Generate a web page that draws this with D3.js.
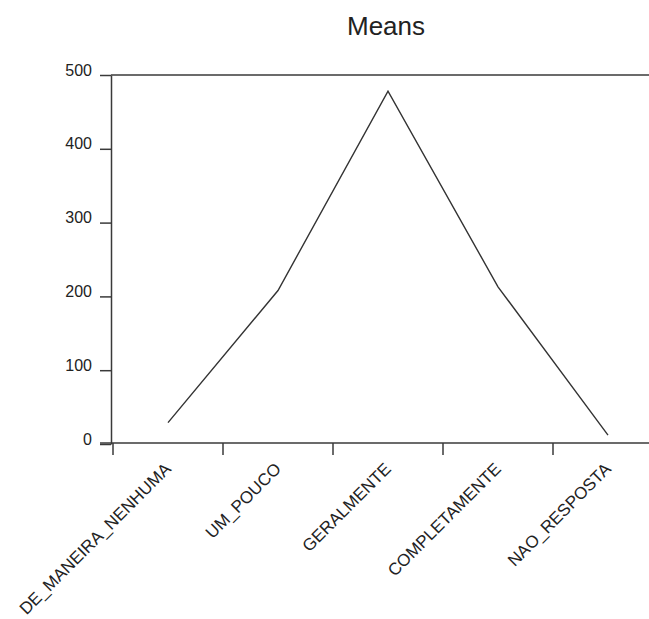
<!DOCTYPE html>
<html>
<head>
<meta charset="utf-8">
<script src="https://cdn.jsdelivr.net/npm/d3@7"></script>
<style>
  html, body { margin: 0; padding: 0; background: #fff; }
  svg { display: block; }
  text { font-family: "Liberation Sans", Arial, sans-serif; fill: #222; }
</style>
</head>
<body>
<script>
const categories = ["DE_MANEIRA_NENHUMA", "UM_POUCO", "GERALMENTE", "COMPLETAMENTE", "NAO_RESPOSTA"];
const means = [29, 208, 478, 213, 12];
const yTicks = [0, 100, 200, 300, 400, 500];
const title = "Means";

const W = 649, H = 619;
const svg = d3.select("body").append("svg").attr("width", W).attr("height", H);

const axisLeftX = 111, axisBottomY = 443, bandStart = 113, bandEnd = 663;

const x = d3.scaleBand().domain(categories).range([bandStart, bandEnd]);
const y = d3.scaleLinear().domain([0, 500]).range([444, 75]);

const ink = "#3a3a3a";

// title
svg.append("text").attr("x", 386).attr("y", 35).attr("text-anchor", "middle")
  .attr("font-size", 26).text(title);

// top border line
svg.append("line").attr("x1", axisLeftX).attr("x2", W).attr("y1", y(500)).attr("y2", y(500))
  .attr("stroke", ink).attr("stroke-width", 1.5);

// y axis
const yAxis = d3.axisLeft(y).tickValues(yTicks).tickSize(11).tickPadding(8).tickSizeOuter(0);
const gy = svg.append("g").attr("transform", `translate(${axisLeftX},0)`).call(yAxis);
gy.select(".domain").attr("stroke", ink).attr("stroke-width", 1.5);
gy.selectAll(".tick line").attr("stroke", ink).attr("stroke-width", 1.5);
gy.selectAll(".tick text").attr("dy", "0").attr("font-size", 16)
  .attr("font-family", "Liberation Sans, Arial, sans-serif").attr("fill", "#222");

// x axis baseline
svg.append("line").attr("x1", 100).attr("x2", W).attr("y1", axisBottomY).attr("y2", axisBottomY)
  .attr("stroke", ink).attr("stroke-width", 1.5);

// x ticks at band boundaries
svg.append("g").selectAll("line").data(categories).join("line")
  .attr("x1", d => x(d)).attr("x2", d => x(d))
  .attr("y1", axisBottomY).attr("y2", axisBottomY + 12)
  .attr("stroke", ink).attr("stroke-width", 1.5);

// x labels
svg.append("g").selectAll("text").data(categories).join("text")
  .attr("transform", d => `translate(${x(d) + x.bandwidth() / 2 + 4},${axisBottomY + 27}) rotate(-45)`)
  .attr("text-anchor", "end").attr("font-size", 17).text(d => d);

// line
const line = d3.line().x((d, i) => x(categories[i]) + x.bandwidth() / 2).y(d => y(d));
svg.append("path").datum(means).attr("d", line)
  .attr("fill", "none").attr("stroke", "#333").attr("stroke-width", 1.4);
</script>
</body>
</html>
